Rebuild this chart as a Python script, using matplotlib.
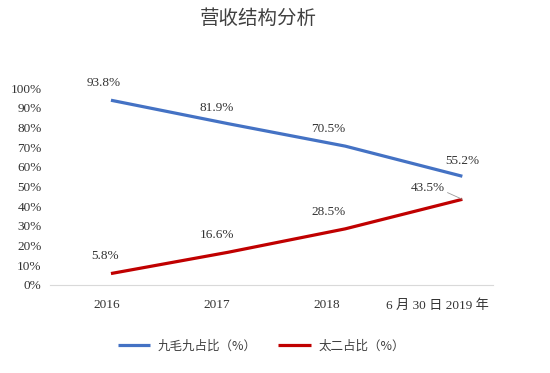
import numpy as np
import matplotlib
matplotlib.use('Agg')
import matplotlib.pyplot as plt

plt.rcParams['font.family'] = ['Liberation Serif', 'Noto Sans CJK SC']

categories = ['2016', '2017', '2018', '6 月 30 日 2019 年']
jmj_share = [93.8, 81.9, 70.5, 55.2]
taier_share = [5.8, 16.6, 28.5, 43.5]
jmj_name = '九毛九占比（%）'
taier_name = '太二占比（%）'
title = '营收结构分析'

blue = '#4472C4'
red = '#C00000'

fig = plt.figure(figsize=(5.5, 3.73), dpi=100)
ax = fig.add_axes([0.091, 0.236, 0.805, 0.528])

x = np.arange(len(categories))
ax.plot(x, jmj_share, color=blue, lw=2.3, solid_capstyle='butt', label=jmj_name)
ax.plot(x, taier_share, color=red, lw=2.3, solid_capstyle='butt', label=taier_name)

# data labels
blue_off = [(-5, 8), (-8, 7), (-12, 8), (0, 7)]
red_off = [(-4, 8), (-8, 8), (-12, 8), (0, 0)]
for i, v in enumerate(jmj_share):
    ax.annotate(f'{v}%', (x[i], v), xytext=blue_off[i], textcoords='offset points',
                ha='center', va='bottom', fontsize=9.5, color='#333333')
for i, v in enumerate(taier_share[:-1]):
    ax.annotate(f'{v}%', (x[i], v), xytext=red_off[i], textcoords='offset points',
                ha='center', va='bottom', fontsize=9.5, color='#333333')
ax.annotate(f'{taier_share[-1]}%', (x[-1], taier_share[-1]), xytext=(-25, 4),
            textcoords='offset points', ha='center', va='bottom', fontsize=9.5,
            color='#333333',
            arrowprops=dict(arrowstyle='-', color='#999999', lw=0.6,
                            shrinkA=0, shrinkB=0, relpos=(1.0, 0.2)))

ax.set_xlim(-0.52, 3.26)
ax.set_ylim(0, 100)
ax.set_yticks(np.arange(0, 101, 10))
ax.set_yticklabels([f'{t}%' for t in range(0, 101, 10)])
ax.set_xticks(x - np.array([0.04, 0.1, 0.16, 0.21]))
ax.set_xticklabels(categories)
ax.tick_params(axis='both', length=0, labelsize=9.5, labelcolor='#333333')
ax.tick_params(axis='x', pad=10)
ax.tick_params(axis='y', pad=6)

for s in ['top', 'right', 'left']:
    ax.spines[s].set_visible(False)
ax.spines['bottom'].set_color('#D9D9D9')
ax.spines['bottom'].set_linewidth(0.8)

fig.text(0.47, 0.95, title, ha='center', va='center', fontsize=14,
         family=['Noto Sans CJK SC'], color='#404040')

leg = fig.legend(loc='center', bbox_to_anchor=(0.475, 0.072), ncol=2, frameon=False,
                 handlelength=2.6, columnspacing=1.7, handletextpad=0.6,
                 prop={'family': ['Noto Sans CJK SC'], 'size': 9})
for t in leg.get_texts():
    t.set_color('#404040')

fig.savefig('out.png', dpi=100, facecolor='white')
